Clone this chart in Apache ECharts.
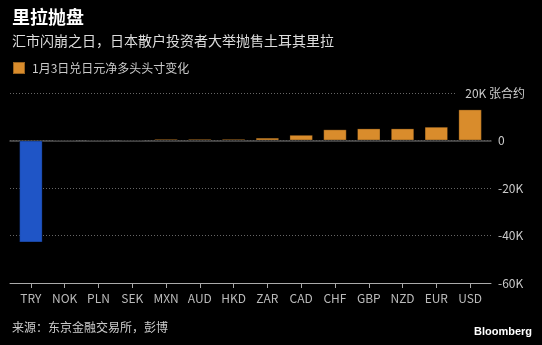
<!DOCTYPE html>
<html><head><meta charset="utf-8">
<script src="https://cdn.jsdelivr.net/npm/echarts@6/dist/echarts.min.js"></script>
<style>html,body{margin:0;padding:0;background:#000}#c{width:542px;height:345px}</style>
</head><body><div id="c"></div>
<script>
const categories = ['TRY','NOK','PLN','SEK','MXN','AUD','HKD','ZAR','CAD','CHF','GBP','NZD','EUR','USD'];
const values = [-42900, 400, 400, 400, 700, 700, 700, 1200, 2400, 4700, 5100, 5100, 5800, 13100];
const yTickValues = [20000, 0, -20000, -40000, -60000];
const yTickLabels = ['20K 张合约', '0', '-20K', '-40K', '-60K'];
const seriesName = '1月3日兑日元净多头头寸变化';

const FONT = "'Noto Sans CJK SC', 'Noto Sans', sans-serif";
const ORANGE = '#D98C2C';
const BLUE = '#1F55C6';
const labelFor = v => { const i = yTickValues.indexOf(v); return i < 0 ? '' : yTickLabels[i]; };

const chart = echarts.init(document.getElementById('c'), null, {renderer: 'canvas'});
chart.setOption({
  backgroundColor: '#000',
  animation: false,
  textStyle: {fontFamily: FONT},
  title: [
    {text: '里拉抛盘', left: 12, top: 8, padding: 0,
     textStyle: {color: '#fff', fontSize: 18, fontWeight: 'bold', fontFamily: FONT}},
    {text: '汇市闪崩之日，日本散户投资者大举抛售土耳其里拉', left: 12, top: 34, padding: 0,
     textStyle: {color: '#ddd', fontSize: 14, fontWeight: 'normal', fontFamily: FONT}},
    {text: '来源：东京金融交易所，彭博', left: 12, top: 321, padding: 0,
     textStyle: {color: '#ccc', fontSize: 12, fontWeight: 'normal', fontFamily: FONT}},
    {text: 'Bloomberg', right: 10, top: 326, padding: 0,
     textStyle: {color: '#fff', fontSize: 11, fontWeight: 'bold', fontFamily: "'Liberation Sans', Arial, sans-serif"}}
  ],
  legend: {
    left: 12, top: 61, padding: 0, itemWidth: 12, itemHeight: 12, icon: 'rect',
    data: [seriesName],
    textStyle: {color: '#ccc', fontSize: 12, fontFamily: FONT, padding: [0, 0, 0, 2]}
  },
  grid: [
    {left: 10, right: 51, top: 93, bottom: 62},
    {left: 14, right: 55, top: 93, bottom: 62}
  ],
  xAxis: [
    {gridIndex: 0, type: 'value', min: 0, max: 1, show: true,
     axisLine: {show: true, onZero: false, lineStyle: {color: '#aaa', width: 1}},
     axisTick: {show: false}, axisLabel: {show: false}, splitLine: {show: false}},
    {gridIndex: 0, type: 'value', min: 0, max: 1, position: 'top', show: true,
     axisLine: {show: true, onZero: true, lineStyle: {color: '#555', width: 1.5}},
     axisTick: {show: false}, axisLabel: {show: false}, splitLine: {show: false}},
    {gridIndex: 1, type: 'category', data: categories, position: 'bottom',
     axisLine: {show: false, onZero: false},
     axisTick: {show: true, alignWithLabel: true, length: 5, lineStyle: {color: '#aaa'}},
     axisLabel: {color: '#bbb', fontSize: 12, margin: 9, fontFamily: FONT},
     splitLine: {show: false}}
  ],
  yAxis: [
    {gridIndex: 0, type: 'value', min: -60000, max: 20000, interval: 20000, position: 'right',
     axisLine: {show: false}, axisTick: {show: false},
     splitLine: {show: true, lineStyle: {color: '#666', type: [1, 2], width: 1}},
     axisLabel: {color: '#ccc', fontSize: 12, margin: 7, fontFamily: FONT,
       formatter: v => v === 20000 ? '' : labelFor(v)}},
    {gridIndex: 1, type: 'value', min: -60000, max: 20000, interval: 20000, position: 'right', z: 5,
     axisLine: {show: false}, axisTick: {show: false}, splitLine: {show: false},
     axisLabel: {color: '#ccc', fontSize: 12, margin: 38, align: 'right', fontFamily: FONT,
       formatter: v => v === 20000 ? '{a|' + labelFor(v) + '}' : '',
       rich: {a: {color: '#ccc', fontSize: 12, fontFamily: FONT, backgroundColor: '#000', padding: [3, 0, 3, 9]}}}}
  ],
  series: [{
    name: seriesName, type: 'bar', xAxisIndex: 2, yAxisIndex: 1, barWidth: 23.5, z: 3,
    itemStyle: {color: ORANGE, borderColor: 'rgba(0,0,0,0.3)', borderWidth: 1},
    data: values.map(v => v < 0 ? {value: v, itemStyle: {color: BLUE}} : v)
  }]
});
</script></body></html>
